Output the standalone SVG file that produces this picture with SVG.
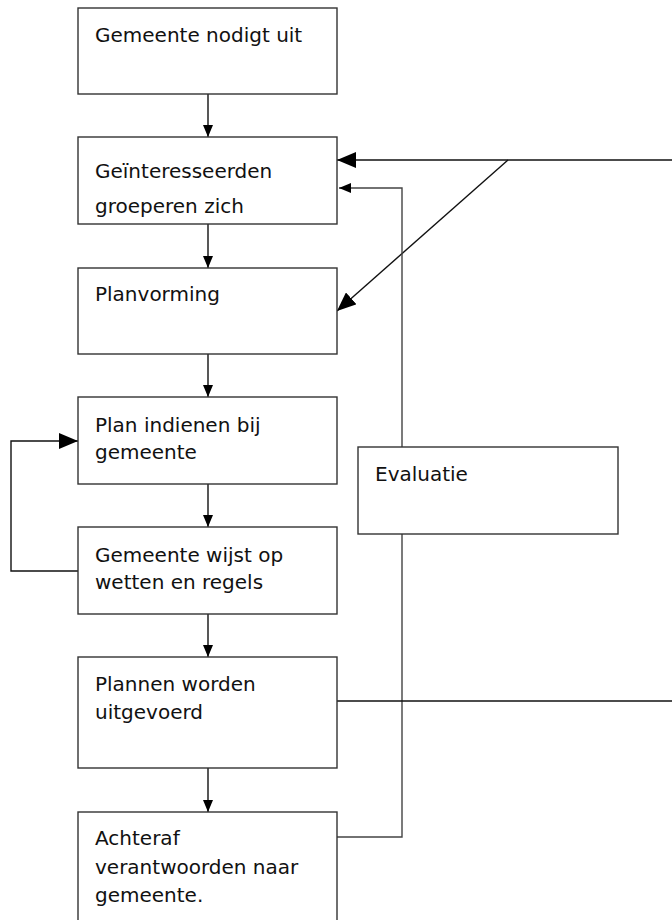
<svg xmlns="http://www.w3.org/2000/svg" width="672" height="920" viewBox="0 0 672 920">
<style>
.box{fill:#fff;stroke:#333;stroke-width:1.4}
.t{font-family:"DejaVu Sans",Verdana,sans-serif;font-size:20px;fill:#111}
.c{fill:none;stroke:#111;stroke-width:1.4}
.g{fill:none;stroke:#444;stroke-width:1.4}
</style>
<defs>
<marker id="sm" markerUnits="userSpaceOnUse" viewBox="0 0 12 10" markerWidth="12" markerHeight="10" refX="12" refY="5" orient="auto"><path d="M0,0 L12,5 L0,10 z" fill="#000"/></marker>
<marker id="lg" markerUnits="userSpaceOnUse" viewBox="0 0 19 16" markerWidth="19" markerHeight="16" refX="19" refY="8" orient="auto"><path d="M0,0 L19,8 L0,16 z" fill="#000"/></marker>
</defs>
<rect width="672" height="920" fill="#fff"/>
<g id="connectors">
<path class="c" d="M208,94 V137" marker-end="url(#sm)"/>
<path class="c" d="M208,224 V268" marker-end="url(#sm)"/>
<path class="c" d="M208,354 V397" marker-end="url(#sm)"/>
<path class="c" d="M208,484 V527" marker-end="url(#sm)"/>
<path class="c" d="M208,614 V657" marker-end="url(#sm)"/>
<path class="c" d="M208,768 V812" marker-end="url(#sm)"/>
<path class="c" d="M78,571 H11 V441 H78" marker-end="url(#lg)"/>
<path class="c" d="M672,160 H337" marker-end="url(#lg)"/>
<path class="c" d="M508,160 L337,311" marker-end="url(#lg)"/>
<path class="g" d="M337,837 H402 V534"/>
<path class="g" d="M402,447 V188 H339" marker-end="url(#sm)"/>
<path class="c" d="M335,701 H672"/>
</g>
<g id="n1"><rect class="box" x="78" y="8" width="259" height="86"/><text class="t" x="95" y="42">Gemeente nodigt uit</text></g>
<g id="n2"><rect class="box" x="78" y="137" width="259" height="87"/><text class="t" x="95" y="178">Geïnteresseerden</text><text class="t" x="95" y="213">groeperen zich</text></g>
<g id="n3"><rect class="box" x="78" y="268" width="259" height="86"/><text class="t" x="95" y="301">Planvorming</text></g>
<g id="n4"><rect class="box" x="78" y="397" width="259" height="87"/><text class="t" x="95" y="432">Plan indienen bij</text><text class="t" x="95" y="459">gemeente</text></g>
<g id="n5"><rect class="box" x="78" y="527" width="259" height="87"/><text class="t" x="95" y="562">Gemeente wijst op</text><text class="t" x="95" y="589">wetten en regels</text></g>
<g id="n6"><rect class="box" x="78" y="657" width="259" height="111"/><text class="t" x="95" y="691">Plannen worden</text><text class="t" x="95" y="719">uitgevoerd</text></g>
<g id="n7"><rect class="box" x="78" y="812" width="259" height="130"/><text class="t" x="95" y="845">Achteraf</text><text class="t" x="95" y="874">verantwoorden naar</text><text class="t" x="95" y="902">gemeente.</text></g>
<g id="n8"><rect class="box" x="358" y="447" width="260" height="87"/><text class="t" x="375" y="481">Evaluatie</text></g>
</svg>
